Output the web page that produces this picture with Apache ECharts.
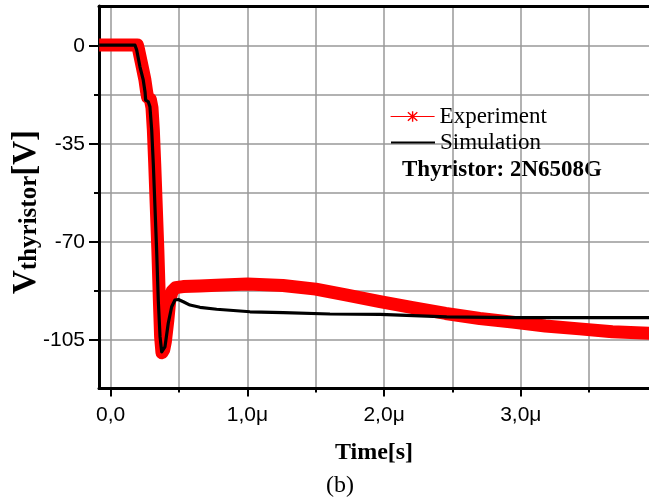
<!DOCTYPE html>
<html><head><meta charset="utf-8">
<script src="https://cdn.jsdelivr.net/npm/echarts@6/dist/echarts.min.js"></script>
<style>html,body{margin:0;padding:0;background:#fff}#c{width:649px;height:498px}</style>
</head><body><div id="c"></div>
<script>
// time in microseconds, voltage in volts
const timeExperiment = [-0.084,0.195,0.205,0.228,0.25,0.263,0.27,0.29,0.302,0.312,0.322,0.345,0.356,0.365,0.375,0.388,0.40,0.418,0.432,0.45,0.475,0.53,0.65,0.775,1.0,1.26,1.5,1.72,1.97,2.21,2.45,2.7,2.94,3.18,3.43,3.67,3.94];
const voltExperiment = [0.4,0.4,-1.5,-6.8,-12,-16.4,-18.3,-19,-22,-30,-42,-72.9,-90.7,-103.8,-109.5,-108.5,-105.5,-97.9,-90.7,-87.5,-86.3,-85.9,-85.7,-85.4,-85.0,-85.5,-86.8,-88.9,-91.3,-93.4,-95.5,-97.3,-98.6,-100.0,-101.0,-102.0,-102.6];
const timeSimulation = [-0.084,0.178,0.19,0.214,0.238,0.251,0.256,0.275,0.287,0.3,0.312,0.336,0.348,0.361,0.373,0.397,0.421,0.446,0.47,0.495,0.531,0.58,0.653,0.775,1.019,1.263,1.604,1.97,2.458,2.945,3.94];
const voltSimulation = [0.3,0.3,-1.4,-7.4,-12.1,-16.3,-19.3,-19.9,-21.7,-30,-42.5,-72.9,-90.7,-103.8,-109.2,-107.4,-99,-93.1,-90.7,-90.5,-91.3,-92.5,-93.3,-94,-94.9,-95.2,-95.7,-95.8,-96.7,-97.0,-97.0];
const xMajorTicks = [0,1,2,3];
const xMinorTicks = [0,0.5,1,1.5,2,2.5,3,3.5];
const yLabelValues = [-105,-70,-35,0];
const yMinorTicks = [-105,-87.5,-70,-52.5,-35,-17.5,0];
const seriesNames = ['Experiment','Simulation'];

const SERIF = 'Liberation Serif';
const SANS = 'Liberation Sans';
const star = 'path://M4.4,0 L5.6,0 L5.6,10 L4.4,10 Z M0.5,1.35 L1.35,0.5 L9.5,8.65 L8.65,9.5 Z M8.65,0.5 L9.5,1.35 L1.35,9.5 L0.5,8.65 Z';
const X_MIN = -0.0856, X_MAX = 3.938, Y_MIN = -122.3, Y_MAX = 14.3;

const chart = echarts.init(document.getElementById('c'), null, {renderer:'canvas'});
const fmtX = v => v === 0 ? '0,0' : v.toFixed(1).replace('.', ',') + 'μ';
chart.setOption({
  animation: false,
  backgroundColor: '#fff',
  grid: {left: 99, right: 0, top: 6, bottom: 109.5, containLabel: false},
  xAxis: [
    {type:'value', position:'bottom', min:X_MIN, max:X_MAX,
     axisLine:{show:true, onZero:false, lineStyle:{color:'#000', width:3}},
     axisTick:{show:true, customValues:xMinorTicks, length:4, lineStyle:{color:'#000', width:2}},
     splitLine:{show:true, lineStyle:{color:'#999', width:1.5}},
     axisLabel:{customValues:xMajorTicks, formatter:fmtX, margin:16, color:'#000', fontFamily:SANS, fontSize:21},
     name:'Time[s]', nameLocation:'middle', nameGap:52,
     nameTextStyle:{fontFamily:SERIF, fontWeight:'bold', fontSize:24, color:'#000'}},
    {type:'value', position:'bottom', min:X_MIN, max:X_MAX,
     axisLine:{show:false, onZero:false},
     axisTick:{show:true, customValues:xMajorTicks, length:8, lineStyle:{color:'#000', width:2}},
     splitLine:{show:false}, axisLabel:{show:false}},
    {type:'value', position:'top', min:X_MIN, max:X_MAX,
     axisLine:{show:true, onZero:false, lineStyle:{color:'#000', width:3}},
     axisTick:{show:false}, splitLine:{show:false}, axisLabel:{show:false}}
  ],
  yAxis: [
    {type:'value', position:'left', min:Y_MIN, max:Y_MAX,
     axisLine:{show:true, onZero:false, lineStyle:{color:'#000', width:3}},
     axisTick:{show:true, customValues:yMinorTicks, length:5, lineStyle:{color:'#000', width:2}},
     splitLine:{show:true, lineStyle:{color:'#999', width:1.5}},
     axisLabel:{customValues:yLabelValues, margin:14, color:'#000', fontFamily:SANS, fontSize:21}},
    {type:'value', position:'left', min:Y_MIN, max:Y_MAX,
     axisLine:{show:false, onZero:false},
     axisTick:{show:true, customValues:yLabelValues, length:10, lineStyle:{color:'#000', width:2}},
     splitLine:{show:false}, axisLabel:{show:false}}
  ],
  legend: [
    {data:[{name:seriesNames[0], lineStyle:{width:1.2}}], left:390, top:105, padding:0,
     itemWidth:44, itemHeight:13, selectedMode:false,
     textStyle:{fontFamily:SERIF, fontSize:23, color:'#000'}},
    {data:[{name:seriesNames[1], itemStyle:{opacity:0}}], left:390, top:131, padding:0,
     itemWidth:44, itemHeight:13, selectedMode:false,
     textStyle:{fontFamily:SERIF, fontSize:23, color:'#000'}}
  ],
  graphic: [
    {type:'text', x:402, y:170, style:{text:'Thyristor: 2N6508G', fontFamily:SERIF, fontWeight:'bold', fontSize:23, fill:'#000', align:'left', verticalAlign:'middle'}},
    {type:'text', x:340, y:486, style:{text:'(b)', fontFamily:SERIF, fontSize:24, fill:'#000', align:'center', verticalAlign:'middle'}},
    {type:'text', x:26, y:212, rotation:Math.PI/2,
     style:{text:'{v|V}{s|thyristor}{v|[V]}', align:'center', verticalAlign:'middle', fill:'#000',
       rich:{v:{fontFamily:SERIF, fontWeight:'bold', fontSize:33, lineHeight:33, fill:'#000'},
             s:{fontFamily:SERIF, fontWeight:'bold', fontSize:25, lineHeight:21, verticalAlign:'bottom', fill:'#000'}}}}
  ],
  series: [
    {name:seriesNames[0], type:'line', xAxisIndex:0, yAxisIndex:0,
     data: timeExperiment.map((t,i)=>[t, voltExperiment[i]]),
     symbol:star, showSymbol:false, color:'#ff0000',
     lineStyle:{color:'#ff0000', width:13, join:'round'}, z:2},
    {name:seriesNames[1], type:'line', xAxisIndex:0, yAxisIndex:0,
     data: timeSimulation.map((t,i)=>[t, voltSimulation[i]]),
     symbol:'circle', showSymbol:false, color:'#000',
     lineStyle:{color:'#000', width:3.2, join:'round'}, z:3}
  ]
});
</script></body></html>
